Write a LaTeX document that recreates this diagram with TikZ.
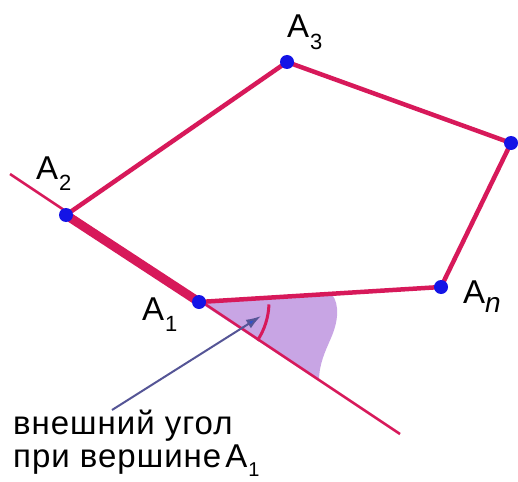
\documentclass[tikz,border=0pt]{standalone}
\usepackage{fontspec}
\setmainfont{Liberation Sans}
\newfontfamily\capfont[LetterSpace=3]{Liberation Sans}
\usetikzlibrary{arrows.meta}
\definecolor{edgered}{RGB}{215,25,90}
\definecolor{dotblue}{RGB}{20,20,230}
\definecolor{lavfill}{RGB}{200,165,228}
\definecolor{ptrline}{RGB}{85,85,150}
\definecolor{ptrhead}{RGB}{50,80,200}
\newcommand{\vlab}[3][22]{A\kern1pt\raisebox{#2}{\fontsize{#1}{#1}\selectfont #3}}
\begin{document}
\begin{tikzpicture}[x=1pt,y=-1pt,
  vdot/.style={circle,fill=dotblue,inner sep=0pt,minimum size=14pt},
  edge/.style={draw=edgered,line width=4.5pt,line cap=round,line join=round},
  thickedge/.style={draw=edgered,line width=9pt,line cap=round},
  extline/.style={draw=edgered,line width=2.6pt},
  vlabel/.style={font=\fontsize{33}{33}\selectfont,inner sep=0pt,anchor=base west},
  caption/.style={font=\capfont\fontsize{33}{34}\selectfont,inner sep=0pt,anchor=base west}]
\useasboundingbox (0,0) rectangle (518,481);
% vertex positions
\coordinate (A1) at (199,302);
\coordinate (A2) at (66,215);
\coordinate (A3) at (287,62);
\coordinate (A4) at (511,143);
\coordinate (An) at (441,287);
\coordinate (e1) at (10,174);
\coordinate (e2) at (400,434);
% shaded exterior angle
\fill[lavfill] (A1) -- (332,294.5) .. controls (340,305) and (338,322) .. (331,338)
  .. controls (325,352) and (319,364) .. (319,381) -- cycle;
% extension line
\draw[extline] (e1) -- (e2);
% polygon edges
\draw[edge] (A1) -- (An) -- (A4) -- (A3) -- (A2);
\draw[thickedge] (A2) -- (A1);
% angle arc
\draw[draw=edgered,line width=3pt] ([shift={(2:70)}]A1) arc[start angle=2,end angle=33.4,radius=70];
% vertices
\node[vdot] (a1) at (A1) {};
\node[vdot] (a2) at (A2) {};
\node[vdot] (a3) at (A3) {};
\node[vdot] (a4) at (A4) {};
\node[vdot] (an) at (An) {};
% labels
\node[vlabel] (l2) at (36,179) {\vlab{-0.36em}{2}};
\node[vlabel] (l3) at (287,38) {\vlab{-0.36em}{3}};
\node[vlabel] (l1) at (142,320) {\vlab{-0.36em}{1}};
\node[vlabel] (ln) at (463,303) {\vlab[28]{-0.3em}{\kern-1pt\textit{n}}};
% caption
\node[caption] (c1) at (13,434) {внешний угол};
\node[caption] (c2) at (13,467) {при вершине\kern4pt\vlab[20]{-0.3em}{1}};
% pointer
\coordinate (p0) at (112,410);
\coordinate (p1) at (261,316);
\draw[ptrline,line width=2pt,-{Latex[length=15pt,width=10pt,fill=ptrhead]}] (p0) -- (p1);
\end{tikzpicture}
\end{document}
